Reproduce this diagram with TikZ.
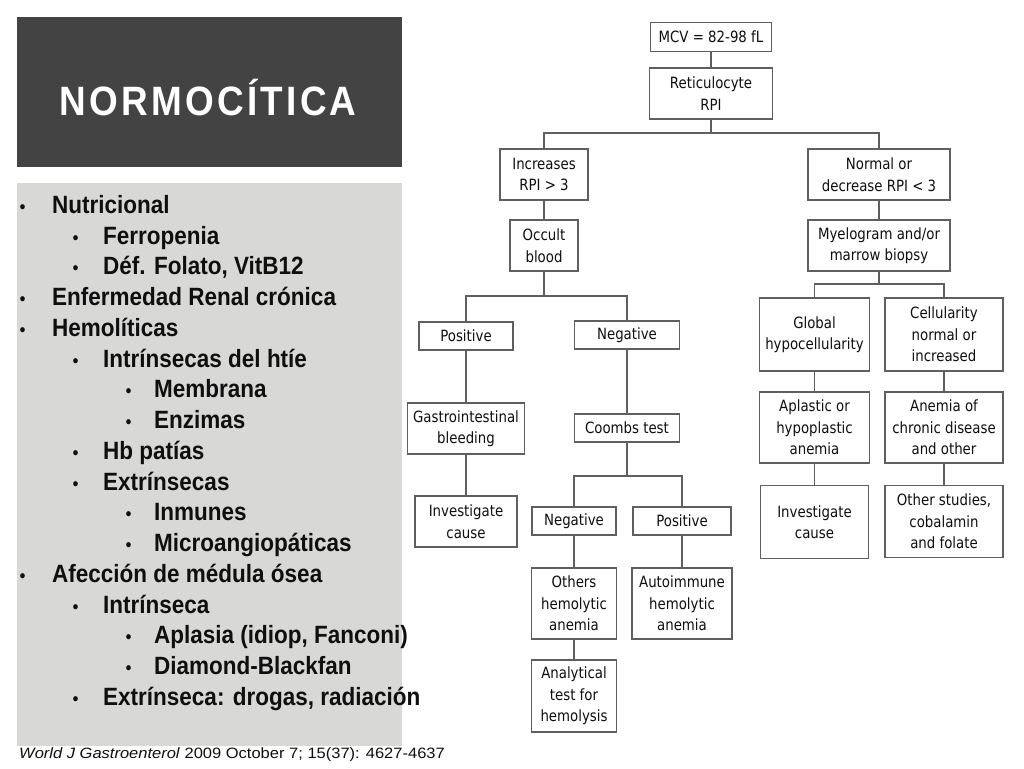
\documentclass[tikz,border=0pt]{standalone}
\usepackage{fontspec}
\setmainfont{Liberation Sans}
\newfontfamily\listfont[FakeStretch=0.9]{Liberation Sans}
\newfontfamily\citefont[FakeStretch=1.1]{Liberation Sans}
\newfontfamily\titlefont[FakeStretch=0.9,LetterSpace=8]{Liberation Sans}
\newfontfamily\flowfont[FakeStretch=0.86]{DejaVu Sans}
\definecolor{titlegray}{RGB}{67,67,67}
\definecolor{panelgray}{RGB}{216,216,215}
\definecolor{linegray}{RGB}{95,95,95}
\definecolor{inkblack}{RGB}{15,15,15}
\tikzset{
  box/.style={draw=linegray, line width=1.2pt, fill=white, align=center, inner sep=0pt,
    text=inkblack, font=\flowfont\fontsize{15.5}{21.5}\selectfont},
  conn/.style={draw=linegray, line width=1.2pt},
  li/.style={anchor=base west, inner sep=0pt, text=inkblack, font=\listfont\bfseries\fontsize{25}{25}\selectfont},
  bul/.style={anchor=base, inner sep=0pt, text=inkblack, font=\listfont\fontsize{19}{19}\selectfont}
}
\begin{document}
\begin{tikzpicture}[x=1pt,y=-1pt]
\useasboundingbox (0,0) rectangle (1024,768);
\fill[white] (0,0) rectangle (1024,768);
% title
\fill[titlegray] (17,17) rectangle (402,167);
\node[anchor=base, inner sep=0pt, text=white, font=\titlefont\bfseries\fontsize{41}{41}\selectfont] (title) at (208,115) {NORMOCÍTICA};
% list panel
\fill[panelgray] (17,183) rectangle (402,746);
\foreach \lv/\tx [count=\i from 0] in {
  1/Nutricional, 2/Ferropenia, 2/{Déf. Folato, VitB12}, 1/Enfermedad Renal crónica,
  1/Hemolíticas, 2/Intrínsecas del htíe, 3/Membrana, 3/Enzimas, 2/Hb patías,
  2/Extrínsecas, 3/Inmunes, 3/Microangiopáticas, 1/Afección de médula ósea,
  2/Intrínseca, 3/{Aplasia (idiop, Fanconi)}, 3/Diamond-Blackfan,
  2/{Extrínseca: drogas, radiación}}{
  \pgfmathsetmacro{\yy}{213.3+30.75*\i}
  \pgfmathsetmacro{\xt}{52+51*(\lv-1)}
  \pgfmathsetmacro{\xb}{22.5+53*(\lv-1)}
  \node[bul] (bul\i) at (\xb,\yy) {•};
  \node[li] (item\i) at (\xt,\yy) {\tx};
}
% citation
\node[anchor=base west, inner sep=0pt, text=inkblack, font=\citefont\fontsize{15}{15}\selectfont] (cite) at (19,758)
  {\textit{World J Gastroenterol} 2009 October 7; 15(37): 4627-4637};
% flowchart boxes
\node[box, minimum width=121, minimum height=29] (mcv) at (711,37) {MCV = 82-98 fL};
\node[box, minimum width=123, minimum height=51] (retic) at (711,93.5) {Reticulocyte\\RPI};
\node[box, minimum width=88, minimum height=51] (incr) at (544,174.5) {Increases\\RPI > 3};
\node[box, minimum width=142, minimum height=51] (norm) at (879,174.5) {Normal or\\decrease RPI < 3};
\node[box, minimum width=68, minimum height=51] (occ) at (544,245.5) {Occult\\blood};
\node[box, minimum width=142, minimum height=51] (myelo) at (879,245.5) {Myelogram and/or\\marrow biopsy};
\node[box, minimum width=94, minimum height=28] (pos1) at (466,336) {Positive};
\node[box, minimum width=105, minimum height=28] (neg1) at (627,335) {Negative};
\node[box, minimum width=117, minimum height=51] (gastro) at (466,428.5) {Gastrointestinal\\bleeding};
\node[box, minimum width=102, minimum height=51] (inv1) at (466,521.5) {Investigate\\cause};
\node[box, minimum width=105, minimum height=28] (coombs) at (627,428) {Coombs test};
\node[box, minimum width=84, minimum height=28] (neg2) at (574,521) {Negative};
\node[box, minimum width=98, minimum height=28] (pos2) at (682,521) {Positive};
\node[box, minimum width=85, minimum height=71] (oth) at (574,603.5) {Others\\hemolytic\\anemia};
\node[box, minimum width=100, minimum height=71] (auto) at (682,603.5) {Autoimmune\\hemolytic\\anemia};
\node[box, minimum width=85, minimum height=72] (anal) at (574,696) {Analytical\\test for\\hemolysis};
\node[box, minimum width=110, minimum height=73] (glob) at (814.5,334.5) {Global\\hypocellularity};
\node[box, minimum width=118, minimum height=73] (cell) at (944,334.5) {Cellularity\\normal or\\increased};
\node[box, minimum width=110, minimum height=71] (apl) at (814.5,427.5) {Aplastic or\\hypoplastic\\anemia};
\node[box, minimum width=118, minimum height=71] (chr) at (944,427.5) {Anemia of\\chronic disease\\and other};
\node[box, minimum width=108, minimum height=73] (inv2) at (814.5,522) {Investigate\\cause};
\node[box, minimum width=118, minimum height=72] (oths) at (944,521.5) {Other studies,\\cobalamin\\and folate};
% connectors
\coordinate (j1) at (711,133);
\coordinate (j2) at (544,296);
\coordinate (j3) at (627,476);
\coordinate (j4) at (879,284);
\draw[conn] (mcv) -- (retic);
\draw[conn] (retic) -- (j1);
\draw[conn] (incr) |- (j1) -| (norm);
\draw[conn] (incr) -- (occ);
\draw[conn] (norm) -- (myelo);
\draw[conn] (occ) -- (j2);
\draw[conn] (pos1) |- (j2) -| (neg1);
\draw[conn] (pos1) -- (gastro);
\draw[conn] (gastro) -- (inv1);
\draw[conn] (neg1) -- (coombs);
\draw[conn] (coombs) -- (j3);
\draw[conn] (neg2) |- (j3) -| (pos2);
\draw[conn] (neg2) -- (oth);
\draw[conn] (oth) -- (anal);
\draw[conn] (pos2) -- (auto);
\draw[conn] (myelo) -- (j4);
\draw[conn] (glob) |- (j4) -| (cell);
\draw[conn] (glob) -- (apl);
\draw[conn] (apl) -- (inv2);
\draw[conn] (cell) -- (chr);
\draw[conn] (chr) -- (oths);
\end{tikzpicture}
\end{document}
